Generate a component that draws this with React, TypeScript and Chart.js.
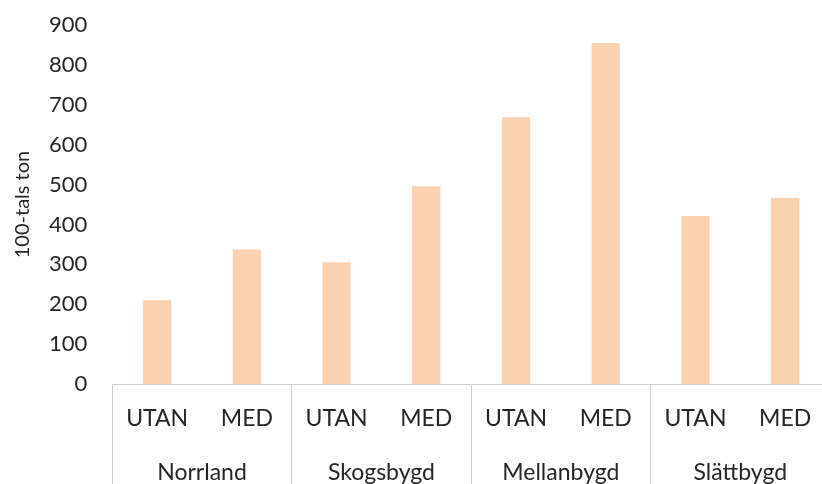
import React, { useEffect, useRef } from 'react';
import { Chart, registerables } from 'chart.js';

Chart.register(...registerables);

const groups = ['Norrland', 'Skogsbygd', 'Mellanbygd', 'Slättbygd'];
const subCategories = ['UTAN', 'MED'];
const categoryLabels = groups.flatMap(() => subCategories);
const values = [210, 337, 305, 496, 669, 855, 421, 466];
const yMin = 0;
const yMax = 900;
const yStep = 100;
const yTitle = '100-tals ton';

const FONT = 'Lato, "Open Sans", sans-serif';
const TEXT = '#262626';
const LINE = '#d0d0d0';
const BAR = '#FAD2B2';

export default function App() {
  const ref = useRef<HTMLCanvasElement>(null);
  useEffect(() => {
    const chart = new Chart(ref.current as HTMLCanvasElement, {
      type: 'bar',
      data: {
        labels: categoryLabels,
        datasets: [
          {
            data: values,
            backgroundColor: BAR,
            borderWidth: 0,
            barPercentage: 0.315,
            categoryPercentage: 1,
            xAxisID: 'x',
            yAxisID: 'y',
          },
        ],
      },
      options: {
        responsive: false,
        animation: false,
        layout: { padding: { left: 11, top: 14, right: 0, bottom: 88 } },
        plugins: { legend: { display: false }, tooltip: { enabled: false } },
        scales: {
          x: {
            type: 'category',
            position: 'bottom',
            weight: 0,
            offset: true,
            grid: {
              display: true,
              drawOnChartArea: false,
              drawTicks: true,
              offset: true,
              tickLength: 104,
              lineWidth: 1,
              color: (c: any) => (typeof c.index === 'number' && c.index % 2 === 0 ? LINE : 'rgba(0,0,0,0)'),
            },
            border: { display: true, color: LINE, width: 1 },
            ticks: {
              mirror: true,
              padding: -46,
              autoSkip: false,
              maxRotation: 0,
              color: TEXT,
              font: { family: FONT, size: 23, lineHeight: 1 },
            },
          },
          x2: {
            type: 'category',
            labels: groups,
            position: 'bottom',
            weight: 1,
            offset: true,
            grid: {
              display: false,
              drawOnChartArea: false,
              drawTicks: true,
              offset: true,
              tickLength: 176,
            },
            border: { display: false },
            ticks: {
              mirror: true,
              padding: -88,
              autoSkip: false,
              maxRotation: 0,
              color: TEXT,
              font: { family: FONT, size: 23, lineHeight: 1 },
            },
          },
          y: {
            min: yMin,
            max: yMax,
            ticks: {
              stepSize: yStep,
              padding: 14,
              color: TEXT,
              font: { family: FONT, size: 22, lineHeight: 1 },
            },
            grid: { display: false, drawTicks: true, tickLength: 11 },
            border: { display: false },
            title: {
              display: true,
              text: yTitle,
              color: TEXT,
              font: { family: FONT, size: 20, lineHeight: 1.2 },
              padding: { top: 0, bottom: 0 },
            },
          },
        },
      } as any,
    });
    return () => chart.destroy();
  }, []);
  return (
    <div style={{ position: 'absolute', left: 0, top: 0, width: 822, height: 484, overflow: 'hidden' }}>
      <canvas ref={ref} width={830} height={484} style={{ width: 830, height: 484, display: 'block' }} />
    </div>
  );
}
